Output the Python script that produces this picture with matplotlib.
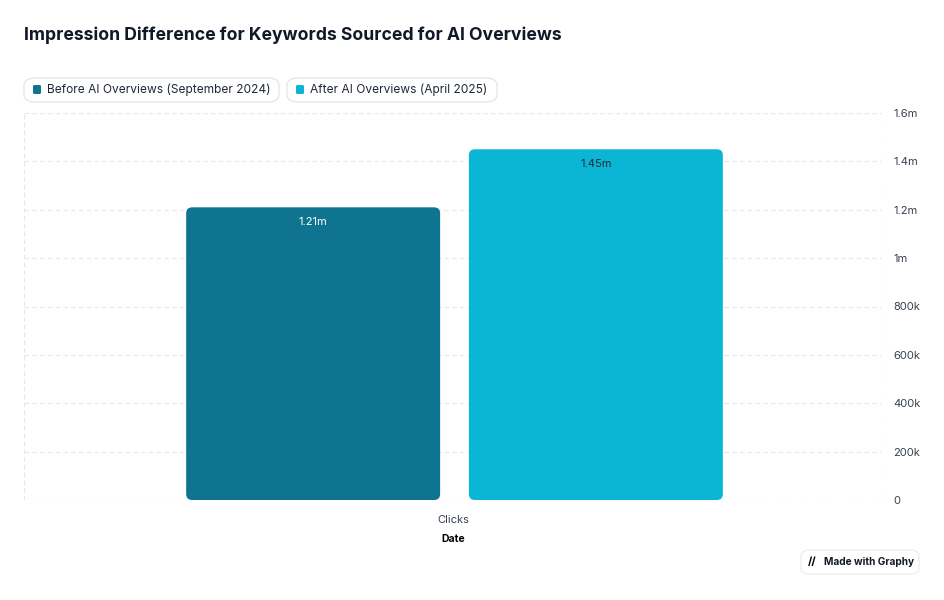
import matplotlib
matplotlib.use("Agg")
import matplotlib.pyplot as plt
from matplotlib.patches import FancyBboxPatch

plt.rc("font", family="Inter")

# data
category = "Clicks"
series = ["Before AI Overviews (September 2024)", "After AI Overviews (April 2025)"]
values = [1.21e6, 1.45e6]
labels = ["1.21m", "1.45m"]
colors = ["#0E7490", "#0AB6D4"]
yticks = [0, 2e5, 4e5, 6e5, 8e5, 1e6, 1.2e6, 1.4e6, 1.6e6]
yticklabels = ["0", "200k", "400k", "600k", "800k", "1m", "1.2m", "1.4m", "1.6m"]

fig = plt.figure(figsize=(9.44, 6), dpi=100)
ax = fig.add_axes([24/944, 100/600, 858/944, 387/600])
ax.set_xlim(-1, 1)
ax.set_ylim(0, 1.6e6)

xpos = [-0.326, 0.333]
width = 0.592
# aspect for rounded corners (data units per pixel)
aspect = (1.6e6/387) / (2/858)
for x, v, c, lab in zip(xpos, values, colors, labels):
    p = FancyBboxPatch((x - width/2, 0), width, v,
                       boxstyle="round,pad=0,rounding_size=0.014",
                       mutation_aspect=aspect, fc=c, ec="none", zorder=3)
    ax.add_patch(p)
    ax.text(x, v - 0.04e6, lab, ha="center", va="top", fontsize=8,
            color="white" if c == colors[0] else "#1f2937", zorder=4)

for t in yticks:
    ax.axhline(t, color="#e5e7eb", lw=0.8, ls=(0, (4, 3)), zorder=1)
ax.axvline(-1, color="#e5e7eb", lw=0.8, ls=(0, (4, 3)))
ax.axvline(1, color="#e5e7eb", lw=0.8, ls=(0, (4, 3)))
for s in ax.spines.values():
    s.set_visible(False)
ax.yaxis.tick_right()
ax.set_yticks(yticks)
ax.set_yticklabels(yticklabels, fontsize=8, color="#374151")
ax.tick_params(axis="y", length=0, pad=8)
ax.set_xticks([0])
ax.set_xticklabels([category], fontsize=8, color="#374151")
ax.tick_params(axis="x", length=0, pad=11)
ax.set_xlabel("Date", fontsize=7.5, fontweight="bold", labelpad=6)

fig.text(24/944, 1 - 35/600, "Impression Difference for Keywords Sourced for AI Overviews",
         fontsize=12.7, fontweight="bold", va="center", color="#111827")

# legend pills
lx = [24, 287]
lw = [255, 210]
for x0, w0, s, c in zip(lx, lw, series, colors):
    fig.patches.append(FancyBboxPatch((x0/944, 1 - 102/600), w0/944, 24/600,
                       boxstyle="round,pad=0,rounding_size=0.012",
                       transform=fig.transFigure, fc="white", ec="#e5e7eb", lw=1))
    fig.patches.append(FancyBboxPatch(((x0 + 9)/944, 1 - 94/600), 8/944, 9/600,
                       boxstyle="round,pad=0,rounding_size=0.002",
                       transform=fig.transFigure, fc=c, ec="none"))
    fig.text((x0 + 23)/944, 1 - 90/600, s, fontsize=8.6, va="center", color="#1f2937")

# badge
fig.patches.append(FancyBboxPatch((801/944, 1 - 574/600), 118/944, 24/600,
                   boxstyle="round,pad=0,rounding_size=0.01",
                   transform=fig.transFigure, fc="white", ec="#eeeeee", lw=1))
fig.text(808/944, 1 - 562/600, "//", fontsize=8, fontweight="bold", va="center")
fig.text(824/944, 1 - 562/600, "Made with Graphy", fontsize=7.3, fontweight="bold",
         va="center", color="#111827")

fig.savefig("out.png", dpi=100)
